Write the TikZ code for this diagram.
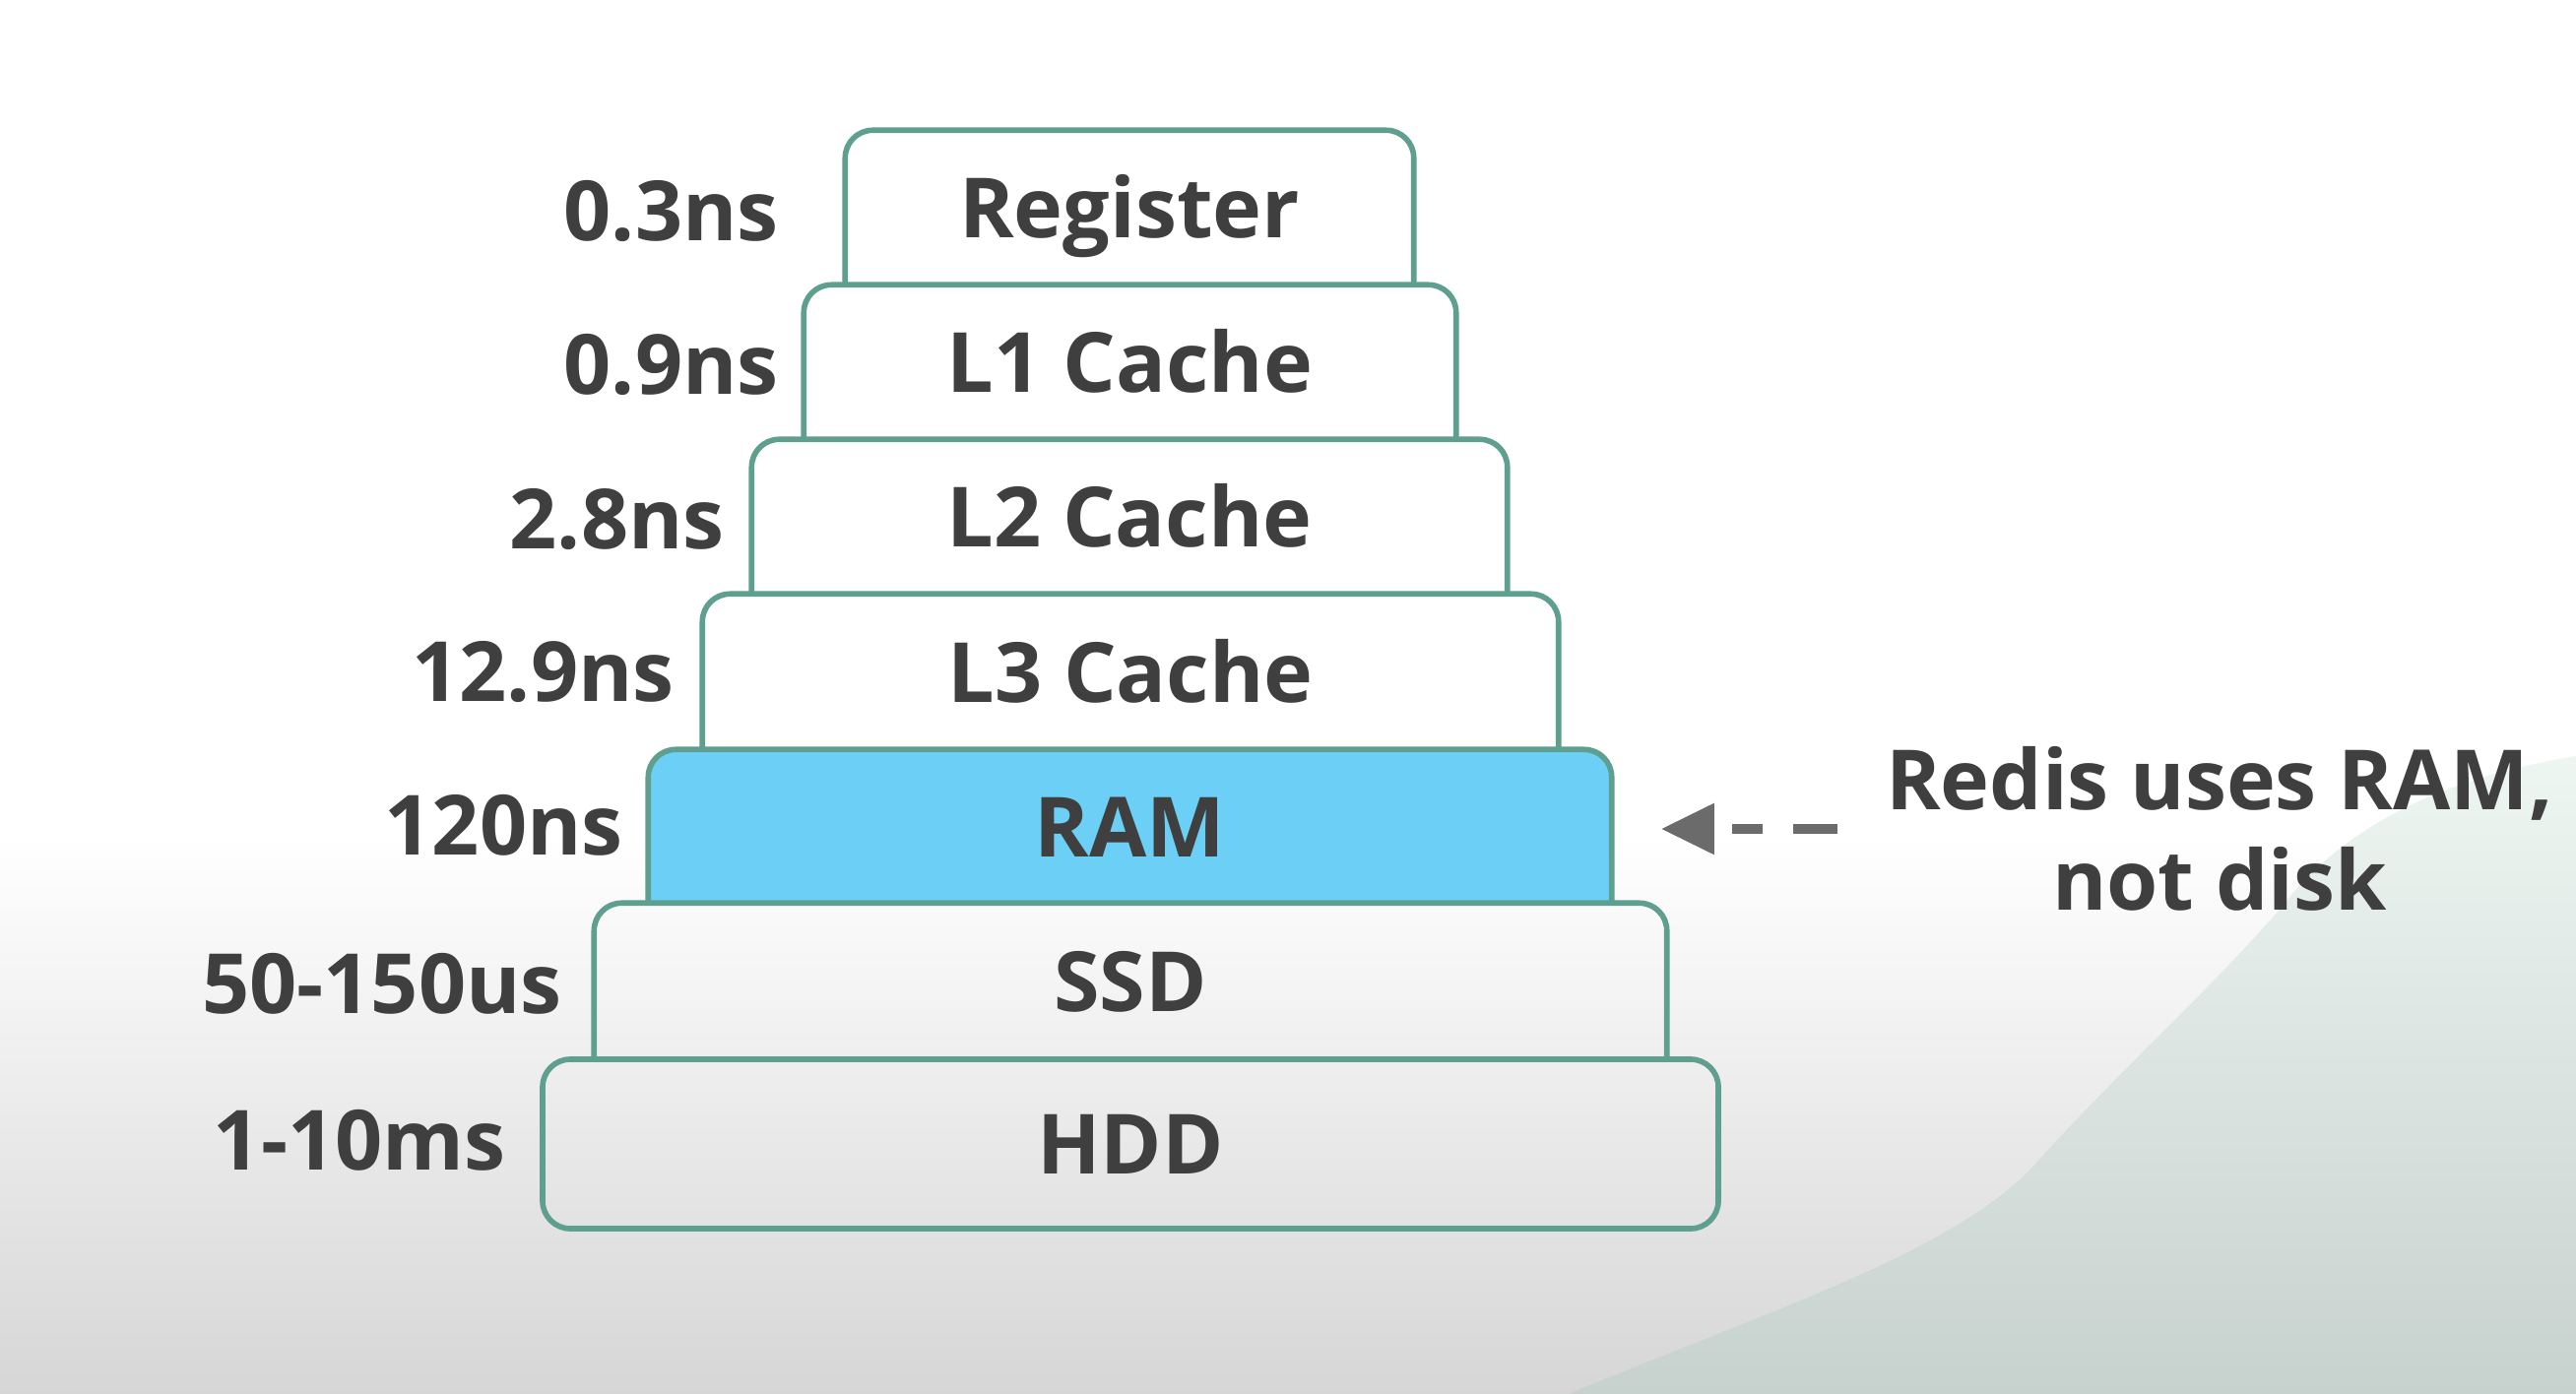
\documentclass[tikz,border=0pt]{standalone}
\usepackage{fontspec}
\setmainfont{Open Sans}
\usetikzlibrary{arrows.meta,calc}
\definecolor{edge}{HTML}{5E9F90}
\definecolor{ramfill}{HTML}{6CCFF6}
\definecolor{ink}{HTML}{3F3F3F}
\definecolor{pointgray}{HTML}{6B6B6B}
\definecolor{bgbot}{HTML}{D6D6D6}
\definecolor{mintTop}{HTML}{EEF6F2}
\definecolor{mintBot}{HTML}{C7D1CE}
\begin{document}
\begin{tikzpicture}[x=0.01cm,y=-0.01cm,
  tier/.style 2 args={inner sep=0pt, minimum width=#1*0.01cm, minimum height=#2*0.01cm,
     font=\fontsize{24}{29}\selectfont\bfseries, text=ink, text height=17.1pt, text depth=0pt},
  lab/.style={inner sep=0pt, anchor=east, font=\fontsize{24}{29}\selectfont\bfseries, text=ink,
     text height=17.1pt, text depth=0pt},
  tierline/.style={draw=edge, line width=1.6pt, line join=round},
  pointer/.style={draw=pointgray, line width=3.1pt,
     dash pattern=on 12.8pt off 8.8pt on 8.8pt off 8pt,
     -{Triangle[length=15.4pt,width=14pt]}, shorten <=13.7pt, shorten >=14.2pt}]
\useasboundingbox (0,0) rectangle (2616,1416);
% background
\fill[white] (0,0) rectangle (2616,1416);
\shade[top color=white, bottom color=bgbot] (0,850) rectangle (2616,1416);
\shade[top color=mintTop, bottom color=mintBot]
  (2616,768) .. controls (2480,790) and (2380,840) .. (2319,919)
  .. controls (2250,1000) and (2150,1090) .. (2070,1179)
  .. controls (1990,1270) and (1800,1330) .. (1593,1416)
  -- (2616,1416) -- cycle;
% tiers
\node[tier={576}{157}] (reg) at (1147,211.5) {Register};
\node[tier={661}{157}] (l1) at (1147.5,368.5) {L1 Cache};
\node[tier={766}{157}] (l2) at (1147,525.5) {L2 Cache};
\node[tier={868}{158}] (l3) at (1148,683) {L3 Cache};
\node[tier={977}{156}] (ram) at (1147.5,840) {};
\node[tier={1088}{158}] (ssd) at (1148,997) {SSD};
\node[tier={1194}{172}, draw=edge, line width=1.6pt, rounded corners=8pt] (hdd) at (1148,1162) {HDD};
\def\rr{28}
\fill[ramfill] (ram.south west) -- ($(ram.north west)+(0,\rr)$)
   .. controls ($(ram.north west)+(0,0.448*\rr)$) and ($(ram.north west)+(0.448*\rr,0)$) .. ($(ram.north west)+(\rr,0)$)
   -- ($(ram.north east)+(-\rr,0)$)
   .. controls ($(ram.north east)+(-0.448*\rr,0)$) and ($(ram.north east)+(0,0.448*\rr)$) .. ($(ram.north east)+(0,\rr)$)
   -- (ram.south east) -- cycle;
\node[tier={977}{156}] at (ram.center) {RAM};
\foreach \n in {reg,l1,l2,l3,ram,ssd}{
  \draw[tierline] (\n.south west) -- ($(\n.north west)+(0,\rr)$)
   .. controls ($(\n.north west)+(0,0.448*\rr)$) and ($(\n.north west)+(0.448*\rr,0)$) .. ($(\n.north west)+(\rr,0)$)
   -- ($(\n.north east)+(-\rr,0)$)
   .. controls ($(\n.north east)+(-0.448*\rr,0)$) and ($(\n.north east)+(0,0.448*\rr)$) .. ($(\n.north east)+(0,\rr)$)
   -- (\n.south east);
}
% latency labels
\node[lab] (treg) at ($(reg.west)+(-67,3)$) {0.3ns};
\node[lab] (tl1) at ($(l1.west)+(-25,2)$) {0.9ns};
\node[lab] (tl2) at ($(l2.west)+(-27,2)$) {2.8ns};
\node[lab] (tl3) at ($(l3.west)+(-28,-1)$) {12.9ns};
\node[lab] (tram) at ($(ram.west)+(-25,-2)$) {120ns};
\node[lab] (tssd) at ($(ssd.west)+(-32,2)$) {50-150us};
\node[lab] (thdd) at ($(hdd.west)+(-34,-4)$) {1-10ms};
% annotation
\node[inner sep=0pt, align=center, font=\fontsize{24}{29}\selectfont\bfseries, text=ink] (redis) at (2254,842) {Redis uses RAM,\\not disk};
\draw[pointer] (redis.west) -- (redis.west -| ram.east);
\end{tikzpicture}
\end{document}
